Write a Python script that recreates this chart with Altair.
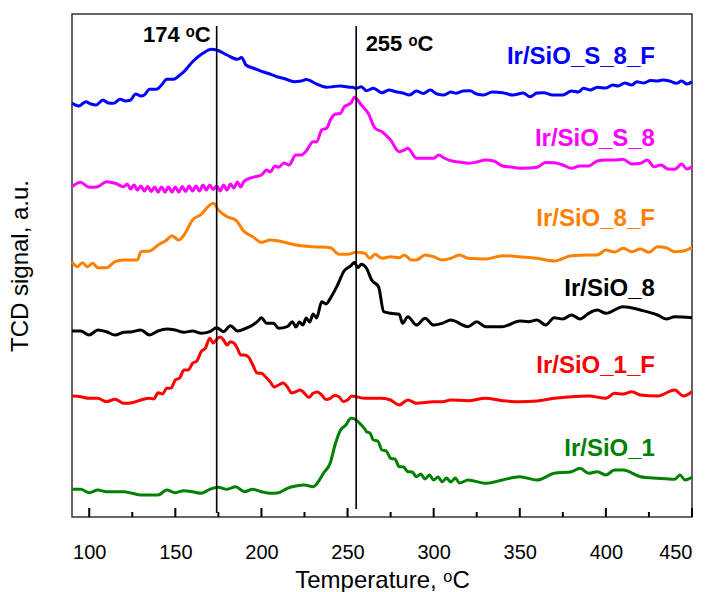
import altair as alt
import pandas as pd

# ---------------- data (temperature in degC, TCD signal in a.u., curves offset) -------------
blue_t = [90, 94, 98, 101, 104, 108, 111, 114, 118, 121, 124, 127, 130, 132, 135, 139, 142, 145, 149, 152,
          155, 160, 166, 171, 174, 180, 186, 188.5, 191, 195, 199, 204, 209, 214, 219, 223, 226, 232, 238,
          242, 246, 250, 253, 255, 258, 261, 265, 270, 274, 278, 282, 286, 290, 294, 298, 302, 306, 310,
          313, 317, 321, 325, 329, 334, 340, 346, 352, 356, 360, 364, 369, 375, 380, 384, 387, 391, 395,
          400, 404, 407, 411, 415, 418, 422, 426, 430, 433, 437, 441, 444, 447, 450]
blue_v = [414, 411, 415.3, 413, 412, 417, 414, 413.7, 417.7, 416, 417, 423, 421, 422, 427.7, 427.7, 432,
          437.7, 437.7, 441, 445.3, 455.3, 463.7, 467.7, 467, 462, 457.7, 459.5, 452, 449, 446.3, 443.5,
          440.3, 438, 435.3, 436, 437.5, 433, 429.7, 430.5, 431, 430, 429.7, 428.7, 430.3, 426.3, 428.7,
          424.3, 427, 425.3, 424, 422, 426, 423.5, 427, 423, 422, 425, 423.7, 426, 426.3, 423, 422, 425,
          424.3, 422, 424, 420.3, 424, 424.3, 422, 422, 426, 425, 428.7, 427, 429.7, 429, 432, 431, 434,
          432, 435.3, 434, 436.5, 436, 437, 436, 433.7, 436, 433, 435.3]

magenta_t = [90, 95, 100, 105, 110, 115, 120, 122, 124, 126, 128, 130, 132, 134, 136, 138, 140, 142, 144,
             146, 148, 150, 152, 154, 156, 158, 160, 162, 164, 166, 168, 170, 172, 174, 176, 178, 180, 182,
             184, 186, 188, 190, 195, 200, 203, 205, 208, 210, 213, 216, 220, 223, 226, 230, 232, 235, 238,
             240, 243, 246, 248, 250, 252, 254, 258, 262, 266, 270, 275, 280, 283, 285, 290, 295, 300, 303,
             306, 310, 315, 320, 325, 330, 335, 340, 345, 350, 355, 360, 365, 370, 375, 380, 385, 390, 395,
             400, 405, 410, 415, 420, 424, 428, 432, 436, 440, 444, 447, 450]
magenta_v = [330.3, 334.7, 329.7, 330.3, 335.3, 333.7, 330.3, 333, 328, 332, 327, 331, 326, 330.5, 325.5,
             330, 325, 330, 325, 330, 325, 330, 325, 330.5, 325.5, 331, 326, 331, 326, 332, 327, 332, 327.5,
             331, 326, 332, 327, 333, 329, 335, 330, 336, 339.7, 342, 347, 345, 351, 349.7, 354, 352, 362,
             362, 366, 375.3, 375, 387, 389, 397, 403, 403.7, 410, 412, 414, 419.7, 412, 403.7, 388.7,
             385.3, 377, 365.3, 367, 368.7, 358.7, 358.7, 358.7, 362, 359, 356.3, 355, 353.7, 355, 357,
             356, 351, 350, 348.7, 349, 349.7, 354.5, 354.3, 352, 348.7, 351, 351, 356, 357, 357, 357.7,
             353, 353.7, 357, 350.3, 352, 348, 347.7, 353, 348, 350.3]

orange_t = [90, 93, 96, 99, 102, 105, 110, 115, 120, 125, 128, 130, 135, 140, 145, 148, 152, 155, 160, 165,
            170, 172, 175, 180, 185, 190, 195, 200, 205, 210, 220, 230, 240, 245, 250, 255, 260, 263, 266,
            270, 275, 280, 283, 287, 290, 295, 300, 305, 310, 315, 320, 330, 340, 350, 360, 370, 380, 390,
            395, 400, 405, 410, 415, 420, 425, 430, 435, 440, 445, 450]
orange_v = [255.3, 250.3, 254.3, 250.3, 253.7, 249.3, 249.3, 255.3, 257, 257, 257, 265.3, 266, 272, 277,
            281.3, 277, 282, 297, 302.7, 312, 313.7, 307, 300.3, 297, 285.3, 280.3, 274.7, 277, 276, 272,
            270.3, 269.3, 262.7, 262.7, 264.7, 263.7, 258.7, 262.7, 258.7, 260.3, 259.3, 262, 257, 257,
            262, 260.3, 257, 258.7, 262, 258.7, 258, 261.3, 260.3, 258.7, 256, 261.3, 262, 262, 267, 265,
            268.7, 265.3, 268, 264.7, 270.3, 269.3, 265.3, 266, 269.3]

black_t = [90, 95, 100, 105, 110, 115, 120, 125, 130, 135, 140, 145, 150, 155, 160, 165, 170, 174, 178, 182,
           186, 190, 195, 198, 200, 203, 207, 210, 215, 218, 220, 222, 224, 226, 228, 230, 232, 235, 237.5,
           240, 244, 248, 252, 254, 256, 258, 261, 264, 268, 271, 275, 280, 282, 285, 290, 295, 300, 305,
           310, 320, 325, 330, 340, 350, 355, 360, 365, 370, 375, 380, 385, 390, 395, 400, 410, 420, 430,
           435, 440, 450]
black_v = [186, 186, 182, 187, 185.3, 182, 184.7, 185.3, 187, 182, 186, 188, 187, 184.7, 186, 183.7, 185.3,
           189.3, 185.3, 191.3, 186, 188, 192, 196, 199.3, 193.7, 193.7, 188.7, 190.3, 195.3, 190, 195,
           192, 199, 195, 203, 199, 215.3, 213, 218.7, 231.3, 246, 251.3, 254.7, 249.3, 252.7, 248.7, 237,
           230.3, 205.3, 203.7, 202.7, 193.7, 200.3, 192, 198.7, 192, 193.7, 197, 190.3, 195.3, 190.3,
           190.3, 196, 195.3, 197, 192, 199.3, 198, 202, 198, 203.7, 207, 203.7, 210.3, 207, 202, 198,
           200.3, 199.3]

red_t = [90, 95, 100, 105, 110, 115, 120, 125, 130, 135, 137.5, 140, 142.5, 145, 147.5, 150, 152.5, 155,
         157.5, 160, 162.5, 165, 167.5, 170, 172, 174, 176, 178, 180, 182, 184, 186, 188, 190, 192.5, 195,
         197.5, 200, 202.5, 205, 207.5, 210, 212.5, 215, 217.5, 220, 222.5, 225, 227.5, 230, 232.5, 235,
         237.5, 240, 242.5, 245, 247.5, 250, 252.5, 255, 260, 265, 270, 275, 280, 285, 290, 300, 305, 310,
         320, 330, 340, 350, 360, 370, 380, 390, 400, 405, 410, 415, 420, 430, 440, 445, 450]
red_v = [121, 120.3, 118.7, 118.7, 115.3, 117.7, 113.7, 114.3, 117, 118.7, 118, 124.3, 123, 128.7, 129, 137,
         139, 147, 147, 153.7, 156, 165.3, 169, 178.7, 174, 177.7, 180, 177, 172, 175.3, 174, 168.7, 162,
         162, 160, 152, 144, 143.7, 140, 135.3, 130, 132, 134, 130.3, 124, 125.3, 127, 123.7, 119.5,
         123.7, 125, 122, 117.5, 118.7, 121.5, 120.3, 115.5, 117, 121, 120.3, 118.7, 118.7, 118.7, 117,
         112, 117, 113.7, 115.3, 115.3, 117, 116.3, 118.7, 116.3, 115.3, 116, 118.7, 120.3, 121, 118.7,
         123.7, 123, 125.3, 122, 121, 127, 121, 125.3]

green_t = [90, 95, 100, 105, 110, 120, 125, 130, 140, 145, 150, 155, 160, 165, 170, 175, 180, 185, 190, 195,
           200, 205, 210, 215, 220, 225, 230, 233, 236, 240, 243, 246, 249, 252, 255, 258, 260, 261, 263,
           265, 267.5, 270, 272.5, 275, 277.5, 280, 282.5, 285, 287.5, 290, 292.5, 295, 297.5, 300, 302.5,
           305, 307.5, 310, 312.5, 315, 320, 330, 340, 350, 360, 370, 380, 385, 390, 395, 400, 405, 410,
           420, 430, 440, 443, 446, 450]
green_v = [27.7, 27.7, 24.3, 27, 25.3, 25.3, 23.7, 22, 22, 27, 24.3, 26.3, 25.3, 23.7, 27.7, 29.7, 27.7,
           30.3, 25.3, 27.7, 25.3, 23.7, 24.3, 28.7, 31, 32, 30.3, 35.3, 43.7, 54.3, 73.7, 87, 92, 98.7,
           97, 92, 88, 85.3, 84, 77, 76, 67, 66, 58.7, 58, 50.3, 50, 45.3, 45, 40.3, 43, 38, 42, 37, 40,
           35.3, 39, 35, 39, 34, 37, 33.7, 37, 40.3, 37, 43.7, 45.3, 48.7, 43.7, 45.3, 42, 47, 47, 40.3,
           38.7, 37.7, 42, 37, 39.7]

series_names = ["Ir/SiO_S_8_F", "Ir/SiO_S_8", "Ir/SiO_8_F", "Ir/SiO_8", "Ir/SiO_1_F", "Ir/SiO_1"]
series_colors = ["#0000FF", "#FF00FF", "#FF8000", "#000000", "#FF0000", "#008000"]
series_data = [(blue_t, blue_v), (magenta_t, magenta_v), (orange_t, orange_v),
               (black_t, black_v), (red_t, red_v), (green_t, green_v)]

# label anchors (temperature, signal) for the sample names
label_t = [428.5, 428.5, 428.5, 428.5, 428.5, 428.5]
label_v = [460, 378, 298, 228, 151, 68]

peak_temps = [174, 255]
peak_texts = ["174 ᵒC", "255 ᵒC"]
peak_label_t = [170.5, 260.5]
peak_label_v = [482, 473]
peak_align = ["right", "left"]
rule_top = [491, 491]
rule_bottom = [4, 8]

major_ticks = [100, 150, 200, 250, 300, 350, 400, 450]
minor_ticks = [125, 175, 225, 275, 325, 375, 425]
major_tick_len = 9
minor_tick_len = 5

FONT = "Liberation Sans, Arial, Helvetica, sans-serif"

rows = []
for name, (ts, vs) in zip(series_names, series_data):
    for t, v in zip(ts, vs):
        rows.append({"series": name, "T": t, "signal": v})
curves = pd.DataFrame(rows)

labels_df = pd.DataFrame({"series": series_names, "T": label_t, "signal": label_v})

xscale = alt.Scale(domain=[90, 450], nice=False, zero=False)
yscale = alt.Scale(domain=[0, 503], nice=False, zero=False)
cscale = alt.Scale(domain=series_names, range=series_colors)

x_axis = alt.Axis(values=major_ticks, tickSize=0, domain=False, grid=False, labelFontSize=20,
                  labelFont=FONT, labelColor="#000000", labelPadding=25, title="Temperature, ᵒC",
                  titleFont=FONT, titleFontSize=24, titleFontWeight="normal", titleColor="#000000",
                  titlePadding=6)
y_axis = alt.Axis(labels=False, ticks=False, domain=False, grid=False, title="TCD signal, a.u.",
                  titleFont=FONT, titleFontSize=24, titleFontWeight="normal", titleColor="#000000",
                  titlePadding=40)

lines = alt.Chart(curves).mark_line(strokeWidth=3, interpolate="monotone").encode(
    x=alt.X("T:Q", scale=xscale, axis=x_axis),
    y=alt.Y("signal:Q", scale=yscale, axis=y_axis),
    color=alt.Color("series:N", scale=cscale, legend=None),
    detail="series:N",
    order="T:Q",
)

rules_df = pd.DataFrame({"T": peak_temps, "top": rule_top, "bottom": rule_bottom})
vrules = alt.Chart(rules_df).mark_rule(color="#000000", strokeWidth=1.6).encode(
    x=alt.X("T:Q", scale=xscale),
    y=alt.Y("bottom:Q", scale=yscale),
    y2="top:Q",
)

name_text = alt.Chart(labels_df).mark_text(align="right", baseline="middle", font=FONT,
                                           fontSize=24, fontWeight="bold").encode(
    x=alt.X("T:Q", scale=xscale),
    y=alt.Y("signal:Q", scale=yscale),
    text="series:N",
    color=alt.Color("series:N", scale=cscale, legend=None),
)

peak_layers = []
for txt, t, v, al in zip(peak_texts, peak_label_t, peak_label_v, peak_align):
    d = pd.DataFrame({"T": [t], "signal": [v], "label": [txt]})
    peak_layers.append(
        alt.Chart(d).mark_text(align=al, baseline="middle", font=FONT, fontSize=22,
                               fontWeight="bold", color="#000000").encode(
            x=alt.X("T:Q", scale=xscale),
            y=alt.Y("signal:Q", scale=yscale),
            text="label:N",
        )
    )

tick_T = major_ticks + minor_ticks
tick_len = [major_tick_len] * len(major_ticks) + [minor_tick_len] * len(minor_ticks)
ticks_df = pd.DataFrame({"T": tick_T, "y0": [0] * len(tick_T), "y1": tick_len})
tick_marks = alt.Chart(ticks_df).mark_rule(color="#000000", strokeWidth=2).encode(
    x=alt.X("T:Q", scale=xscale), y=alt.Y("y0:Q", scale=yscale), y2="y1:Q")

chart = alt.layer(lines, tick_marks, vrules, name_text, *peak_layers).properties(
    width=620, height=503,
    autosize=alt.AutoSizeParams(type="none"),
    padding={"left": 72, "top": 14, "right": 17, "bottom": 75},
    background="#FFFFFF",
).configure_view(stroke="#333333", strokeWidth=1.5)

chart.save("out.html", embed_options={"renderer": "svg", "actions": False})
